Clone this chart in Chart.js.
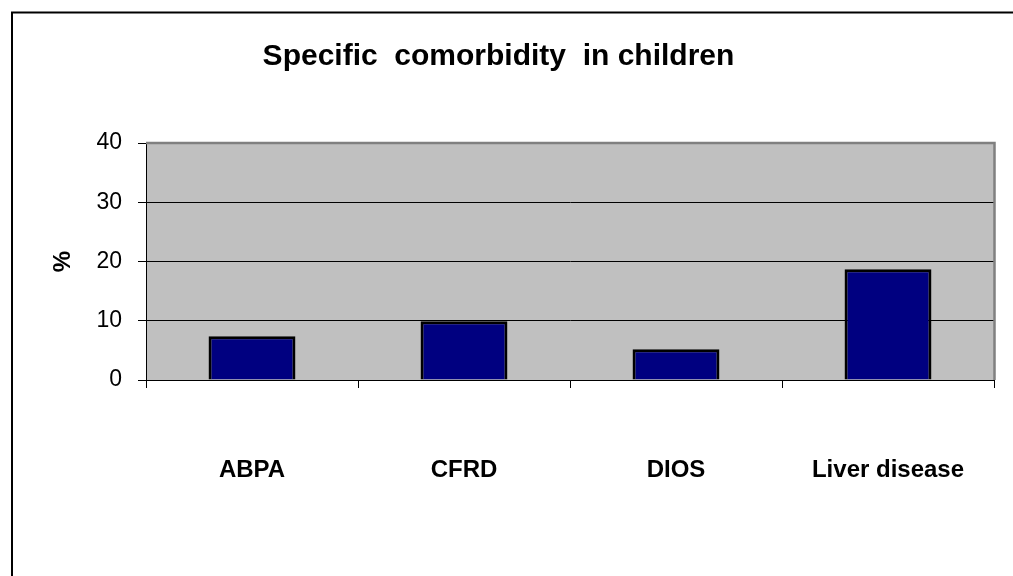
<!DOCTYPE html>
<html>
<head>
<meta charset="utf-8">
<title>Specific comorbidity in children</title>
<script src="https://cdn.jsdelivr.net/npm/chart.js@4/dist/chart.umd.min.js"></script>
<style>
  html, body { margin: 0; padding: 0; background: #fff; }
  #wrap { width: 1013px; height: 576px; position: relative; }
</style>
</head>
<body>
<div id="wrap"><canvas id="chart" width="1013" height="576"></canvas></div>
<script>
// Share of children with each comorbidity (%)
const categories = ['ABPA', 'CFRD', 'DIOS', 'Liver disease'];
const percentValues = [7.4, 9.9, 5.2, 18.7];
const yTickValues = [0, 10, 20, 30, 40];
const chartTitle = 'Specific  comorbidity  in children';
const yAxisTitle = '%';

const FONT = "'Liberation Sans', Arial, sans-serif";

// White page, cropped outer frame, grey plot background
const backdrop = {
  id: 'backdrop',
  beforeDraw(chart) {
    const { ctx, chartArea: a } = chart;
    ctx.save();
    ctx.fillStyle = '#ffffff';
    ctx.fillRect(0, 0, chart.width, chart.height);
    ctx.fillStyle = '#c0c0c0';
    ctx.fillRect(a.left, a.top, a.right - a.left, a.bottom - a.top);
    ctx.strokeStyle = '#000';
    ctx.lineWidth = 2;
    ctx.beginPath();
    ctx.moveTo(12, chart.height + 5);
    ctx.lineTo(12, 12.5);
    ctx.lineTo(chart.width + 5, 12.5);
    ctx.stroke();
    ctx.restore();
  },
  beforeDatasetsDraw(chart) {
    const { ctx, chartArea: a } = chart;
    ctx.save();
    ctx.strokeStyle = '#808080';
    ctx.lineWidth = 2.5;
    ctx.beginPath();
    ctx.moveTo(a.left, a.top);
    ctx.lineTo(a.right + 0.5, a.top);
    ctx.lineTo(a.right + 0.5, a.bottom);
    ctx.stroke();
    ctx.restore();
  }
};

new Chart(document.getElementById('chart'), {
  type: 'bar',
  data: {
    labels: categories,
    datasets: [{
      data: percentValues,
      backgroundColor: '#000080',
      borderColor: '#000000',
      borderWidth: 3,
      categoryPercentage: 1,
      barPercentage: 0.41
    }]
  },
  options: {
    responsive: false,
    animation: false,
    devicePixelRatio: 1,
    layout: { padding: { left: 3, right: 19, top: 0, bottom: 0 } },
    plugins: {
      legend: { display: false },
      tooltip: { enabled: false },
      title: {
        display: true,
        text: chartTitle,
        color: '#000',
        font: { family: FONT, size: 30, weight: 'bold' },
        padding: { top: 39, bottom: 68 }
      }
    },
    scales: {
      x: {
        afterFit(scale) {
          scale.height = 196;
          scale.paddingLeft = 0;
          scale.paddingRight = 0;
        },
        grid: {
          display: true,
          offset: true,
          drawOnChartArea: false,
          drawTicks: true,
          tickLength: 8,
          color: '#000',
          tickColor: '#000'
        },
        border: { display: true, color: '#000', width: 1 },
        ticks: {
          color: '#000',
          font: { family: FONT, size: 24, weight: 'bold' },
          padding: 68,
          maxRotation: 0,
          autoSkip: false
        }
      },
      y: {
        min: 0,
        max: 40,
        afterFit(scale) { scale.width = 143; },
        afterBuildTicks(scale) {
          scale.ticks = yTickValues.map(v => ({ value: v }));
        },
        grid: {
          color: ctx => (ctx.tick && ctx.tick.value === 40) ? 'rgba(0,0,0,0)' : '#000',
          lineWidth: 1,
          drawTicks: true,
          tickLength: 8,
          tickColor: '#000'
        },
        border: { display: true, color: '#000', width: 1 },
        ticks: {
          color: '#000',
          font: { family: FONT, size: 23 },
          padding: 16
        },
        title: {
          display: true,
          text: yAxisTitle,
          color: '#000',
          font: { family: FONT, size: 24, weight: 'bold' },
          padding: { top: 46, bottom: 0 }
        }
      }
    }
  },
  plugins: [backdrop]
});
</script>
</body>
</html>
